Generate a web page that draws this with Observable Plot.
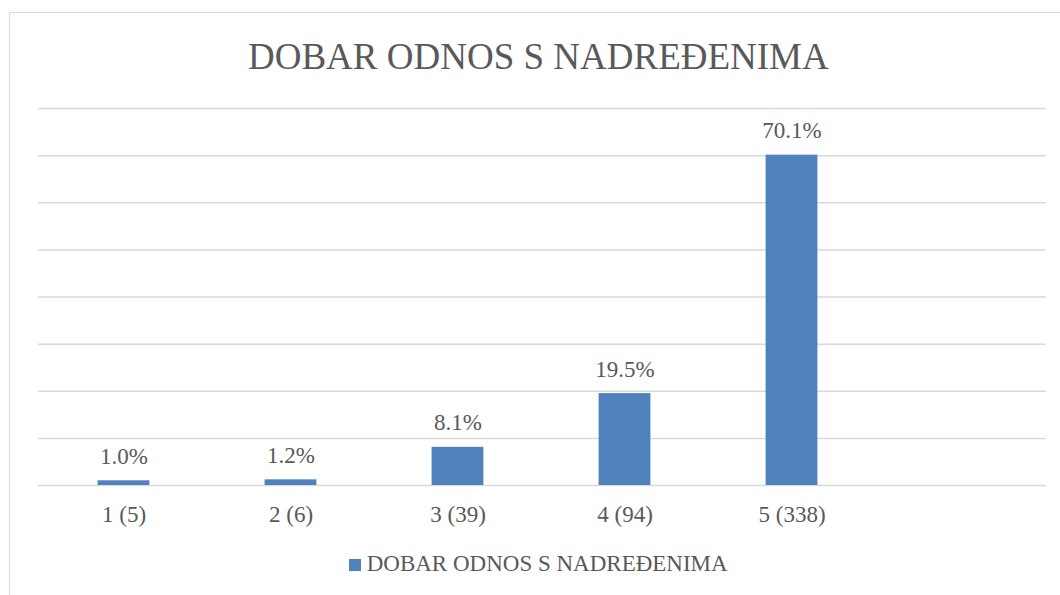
<!DOCTYPE html>
<html>
<head>
<meta charset="utf-8">
<script src="https://cdn.jsdelivr.net/npm/d3@7"></script>
<script src="https://cdn.jsdelivr.net/npm/@observablehq/plot@0.6"></script>
<style>
  html, body { margin: 0; padding: 0; background: #fff; }
  #wrap { position: relative; width: 1060px; height: 595px; overflow: hidden; color: #595959; font-family: 'Liberation Serif', serif; }
  #box { position: absolute; left: 9px; top: 12px; width: 1200px; height: 800px; border: 1.5px solid #d9d9d9; box-sizing: border-box; }
  #title { position: absolute; top: 37.5px; left: 248px; font-size: 37px; line-height: 37px; white-space: nowrap; font-family: 'Liberation Serif', serif; }
  #chart { position: absolute; left: 0; top: 80px; }
  #legend { position: absolute; top: 552.4px; left: 349px; font-size: 23px; line-height: 23px; white-space: nowrap; font-family: 'Liberation Serif', serif; }
  #legend .sw { position: absolute; left: 0; top: 6.6px; width: 12px; height: 12px; background: #4F81BD; }
  #legend .lb { position: absolute; left: 17.7px; top: 0; }
</style>
</head>
<body>
<div id="wrap">
  <div id="box"></div>
  <div id="title"></div>
  <div id="chart"></div>
  <div id="legend"><span class="sw"></span><span class="lb"></span></div>
</div>
<script>
const titleText = "DOBAR ODNOS S NADREĐENIMA";
const seriesName = "DOBAR ODNOS S NADREĐENIMA";
const categories = ["1 (5)", "2 (6)", "3 (39)", "4 (94)", "5 (338)"];
const percents = [1.0, 1.2, 8.1, 19.5, 70.1];
const gridTicks = [0, 10, 20, 30, 40, 50, 60, 70, 80];

const data = categories.map((c, i) => ({cat: c, value: percents[i]}));

document.getElementById("title").textContent = titleText;
document.querySelector("#legend .lb").textContent = seriesName;

const step = 167.9;
const left = 38;

const chart = Plot.plot({
  width: 1060,
  height: 460,
  marginLeft: left,
  marginRight: 14,
  marginTop: 28,
  marginBottom: 55,
  style: {fontFamily: "'Liberation Serif', serif", color: "#595959", background: "transparent", overflow: "visible"},
  x: {domain: categories, range: [left, left + step * categories.length], padding: 0, axis: null},
  y: {domain: [0, 80], axis: null},
  marks: [
    Plot.ruleY(gridTicks, {stroke: "#d9d9d9", strokeWidth: 1.5}),
    Plot.barY(data, {x: "cat", y: "value", fill: "#4F81BD", insetLeft: 57.6, insetRight: 57.6}),
    Plot.text(data, {x: "cat", y: "value", text: d => d.value.toFixed(1) + "%", lineAnchor: "bottom", dy: -17, fontSize: 23, fill: "#595959"}),
    Plot.axisX({domain: categories, tickSize: 0, tickPadding: 20, fontSize: 23, fill: "#595959", label: null})
  ]
});
document.getElementById("chart").appendChild(chart);
</script>
</body>
</html>
